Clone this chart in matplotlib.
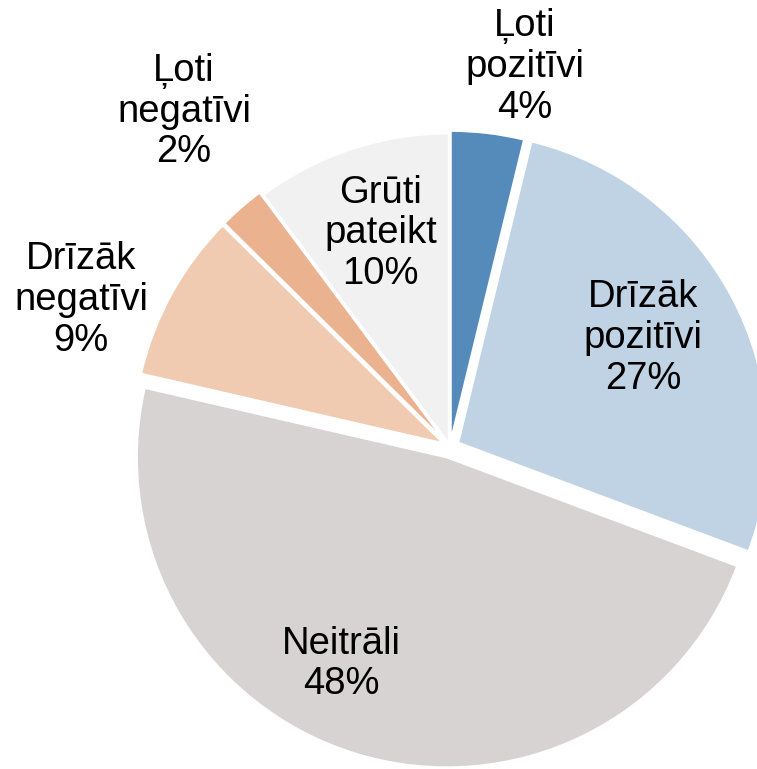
import matplotlib
matplotlib.use("Agg")
import matplotlib.pyplot as plt

# data
categories = ["Ļoti\npozitīvi", "Drīzāk\npozitīvi", "Neitrāli",
              "Drīzāk\nnegatīvi", "Ļoti\nnegatīvi", "Grūti\npateikt"]
shares = [3.8, 26.9, 47.9, 8.8, 2.4, 10.2]

colors = ["#558bba", "#c0d3e4", "#d7d3d3", "#f0cbb1", "#ebb28f", "#f1f1f1"]
explode = [0.02, 0.03, 0.035, 0.025, 0.025, 0.012]
# label centres in axis units (pie radius = 1)
label_pos = [(0.242, 1.226), (0.623, 0.352), (-0.351, -0.700),
             (-1.190, 0.474), (-0.858, 1.082), (-0.223, 0.689)]

plt.rcParams['font.family'] = ['Liberation Sans', 'DejaVu Sans']

fig = plt.figure(figsize=(7.57, 7.69), dpi=100)
ax = fig.add_axes([0, 0, 1, 1])

wedges, _ = ax.pie(shares, colors=colors, explode=explode, startangle=90,
                   counterclock=False, radius=1,
                   wedgeprops=dict(edgecolor='white', linewidth=1.5))

for lab, val, (x, y) in zip(categories, shares, label_pos):
    ax.text(x, y, "%s\n%d%%" % (lab, round(val)), ha='center', va='center',
            fontsize=27.5, color='black', linespacing=1.17)

ax.set_xlim(-450 / 310, 307 / 310)
ax.set_ylim(-322 / 310, 447 / 310)
ax.set_aspect('auto')
ax.axis('off')

fig.savefig("out.png", dpi=100)
